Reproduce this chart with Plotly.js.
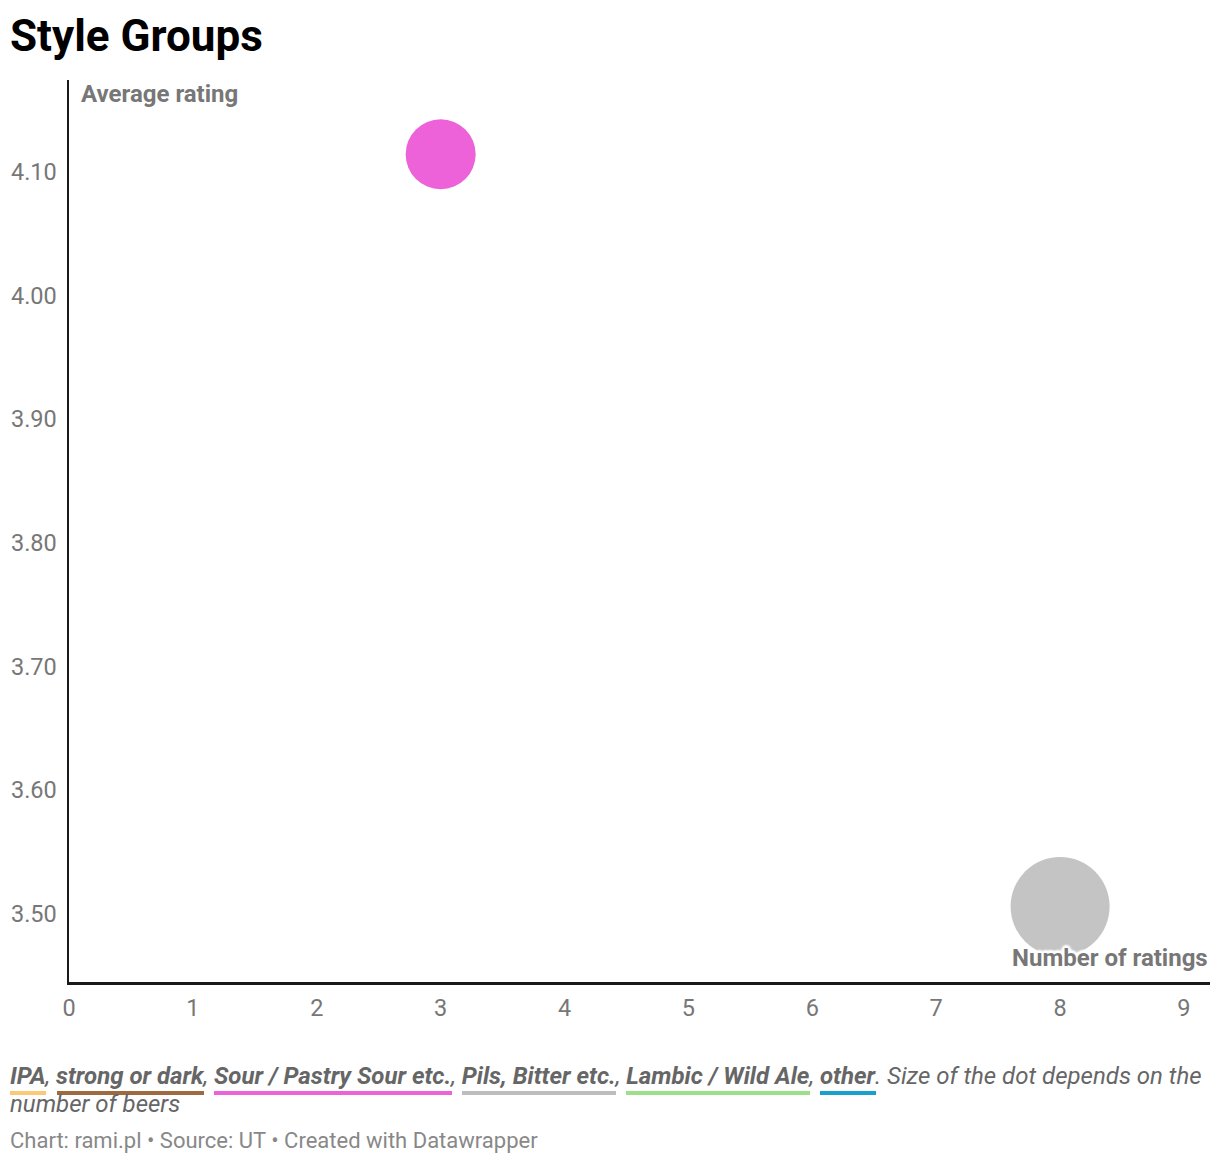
<!DOCTYPE html>
<html>
<head>
<meta charset="utf-8">
<script src="https://cdn.plot.ly/plotly-3.0.1.min.js"></script>
<style>
  body { margin: 0; background: #fff; }
  #graph { width: 1220px; height: 1164px; }
</style>
</head>
<body>
<div id="graph"></div>
<script>
// dots: style group, number of ratings, average rating, number of beers
var groups = ['Sour / Pastry Sour etc.', 'Pils, Bitter etc.'];
var numRatings = [3, 8];
var avgRating = [4.114, 3.506];
var numBeers = [1, 2];
var dotColors = ['#ee62d9', '#c4c4c4'];

// colour key below the chart
var keyNames = ['IPA', 'strong or dark', 'Sour / Pastry Sour etc.', 'Pils, Bitter etc.', 'Lambic / Wild Ale', 'other'];
var keyColors = ['#fcc978', '#9e6a3f', '#ee62d9', '#bdbdbd', '#9ce089', '#18a1cd'];
var keyBars = [[10, 46], [57, 204], [214, 452], [462, 616], [626, 810], [820, 876]];

var yTicks = [3.5, 3.6, 3.7, 3.8, 3.9, 4.0, 4.1];
var xTicks = [0, 1, 2, 3, 4, 5, 6, 7, 8, 9];

// plot area in pixels
var L = 69, R = 1210, T = 80, B = 982;
function px(x) { return (x - L) / (R - L); }
function py(y) { return (B - y) / (B - T); }

var trace = {
  x: numRatings,
  y: avgRating,
  text: groups,
  mode: 'markers',
  type: 'scatter',
  marker: {
    size: numBeers,
    sizemode: 'area',
    sizeref: 2 / 4900,
    color: dotColors,
    opacity: 1,
    line: {width: 0}
  },
  hoverinfo: 'text',
  cliponaxis: false
};

var grey = '#666';
var keyLine1 = keyNames.map(function (n) { return '<b>' + n + '</b>'; }).join(', ')
  + '. Size of the dot depends on the';
var keyLine2 = 'number of beers';

var shapes = keyBars.map(function (b, i) {
  return {
    type: 'rect', xref: 'paper', yref: 'paper',
    x0: px(b[0]), x1: px(b[1]), y0: py(1095), y1: py(1091),
    fillcolor: keyColors[i], line: {width: 0}
  };
});

var whiteHalo = '3px 0 2px #fff, -3px 0 2px #fff, 0 3px 2px #fff, 0 -3px 2px #fff, 2px 2px 2px #fff, -2px -2px 2px #fff, 2px -2px 2px #fff, -2px 2px 2px #fff';

var layout = {
  width: 1220,
  height: 1164,
  margin: {l: L, r: 1220 - R, t: T, b: 1164 - B},
  paper_bgcolor: '#fff',
  plot_bgcolor: '#fff',
  showlegend: false,
  font: {family: 'Roboto, sans-serif', color: grey},
  title: {
    text: '<b>Style Groups</b>',
    x: 10 / 1220, xanchor: 'left', xref: 'container',
    y: 1 - 36 / 1164, yanchor: 'middle', yref: 'container',
    font: {size: 44, color: '#000', family: 'Roboto, sans-serif'}
  },
  xaxis: {
    range: [0, 9.21],
    tickvals: xTicks,
    showgrid: false,
    zeroline: false,
    showline: true,
    linecolor: '#1a1a1a',
    linewidth: 2.5,
    ticks: '',
    ticklabelstandoff: 3,
    tickfont: {size: 23.5, color: '#777'}
  },
  yaxis: {
    range: [3.445, 4.174],
    tickvals: yTicks,
    tickformat: '.2f',
    showgrid: false,
    zeroline: false,
    showline: true,
    linecolor: '#1a1a1a',
    linewidth: 2.5,
    ticks: '',
    ticklabelstandoff: 5,
    tickfont: {size: 23.5, color: '#777'}
  },
  shapes: shapes,
  annotations: [
    {
      text: '<b>Average rating</b>', xref: 'paper', yref: 'paper',
      x: px(79), y: py(94), xanchor: 'left', yanchor: 'middle', showarrow: false,
      font: {size: 24, color: '#777'}
    },
    {
      text: '<b>Number of ratings</b>', xref: 'paper', yref: 'paper',
      x: px(1210), y: py(958), xanchor: 'right', yanchor: 'middle', showarrow: false,
      font: {size: 24, color: '#777', shadow: whiteHalo}
    },
    {
      text: '<i>' + keyLine1 + '</i>', xref: 'paper', yref: 'paper',
      x: px(8), y: py(1076), xanchor: 'left', yanchor: 'middle', align: 'left', showarrow: false,
      font: {size: 24, color: grey}
    },
    {
      text: '<i>' + keyLine2 + '</i>', xref: 'paper', yref: 'paper',
      x: px(8), y: py(1104), xanchor: 'left', yanchor: 'middle', align: 'left', showarrow: false,
      font: {size: 24, color: grey}
    },
    {
      text: 'Chart: rami.pl • Source: UT • Created with Datawrapper', xref: 'paper', yref: 'paper',
      x: px(8), y: py(1140), xanchor: 'left', yanchor: 'middle', showarrow: false,
      font: {size: 22, color: '#888'}
    }
  ]
};

Plotly.newPlot('graph', [trace], layout, {displayModeBar: false, staticPlot: true});
</script>
</body>
</html>
